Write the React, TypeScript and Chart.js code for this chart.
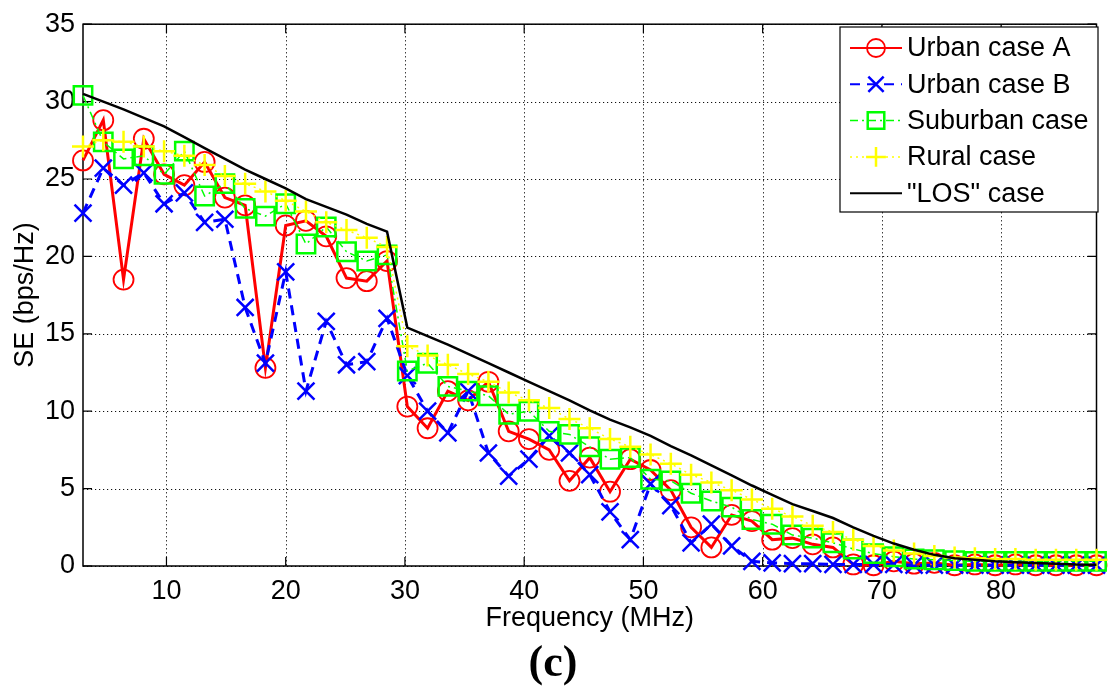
import React, { useEffect, useRef } from 'react';
import { Chart, registerables } from 'chart.js';

Chart.register(...registerables);

// ---------- data ----------
const freqMHz = [3, 4.7, 6.4, 8.1, 9.8, 11.5, 13.2, 14.9, 16.6, 18.3, 20, 21.7, 23.4, 25.1, 26.8, 28.5, 30.2, 31.9, 33.6, 35.3, 37, 38.7, 40.4, 42.1, 43.8, 45.5, 47.2, 48.9, 50.6, 52.3, 54, 55.7, 57.4, 59.1, 60.8, 62.5, 64.2, 65.9, 67.6, 69.3, 71, 72.7, 74.4, 76.1, 77.8, 79.5, 81.2, 82.9, 84.6, 86.3, 88];

const urbanA = [26.2, 28.8, 18.5, 27.6, 25.3, 24.6, 26.1, 23.8, 23.3, 12.8, 22.0, 22.3, 21.3, 18.6, 18.4, 19.7, 10.3, 8.9, 11.3, 10.7, 11.9, 8.7, 8.2, 7.5, 5.5, 7.0, 4.8, 6.9, 6.2, 4.9, 2.5, 1.2, 3.3, 2.9, 1.7, 1.8, 1.4, 1.2, 0.1, 0.05, 0.3, 0.15, 0.2, 0.05, 0.1, 0.05, 0.1, 0.05, 0.05, 0.05, 0.05];

const urbanB = [22.8, 25.7, 24.6, 25.4, 23.4, 24.1, 22.2, 22.4, 16.7, 13.1, 19.0, 11.3, 15.8, 13.0, 13.2, 16.0, 12.3, 10.0, 8.6, 11.3, 7.3, 5.8, 6.9, 8.4, 7.3, 5.9, 3.5, 1.7, 5.3, 3.9, 1.5, 2.7, 1.3, 0.3, 0.2, 0.15, 0.15, 0.1, 0.1, 0.1, 0.1, 0.05, 0.05, 0.05, 0.05, 0.05, 0.05, 0.05, 0.05, 0.05, 0.05];

const suburban = [30.4, 27.4, 26.3, 26.5, 25.3, 26.8, 23.9, 24.7, 23.1, 22.6, 23.4, 20.8, 21.9, 20.3, 19.7, 20.1, 12.6, 13.1, 11.6, 11.3, 11.0, 9.8, 10.0, 8.7, 8.5, 7.7, 6.9, 7.0, 5.6, 5.5, 4.7, 4.2, 3.8, 3.0, 2.7, 2.0, 1.8, 1.5, 1.1, 0.8, 0.6, 0.45, 0.4, 0.35, 0.3, 0.3, 0.3, 0.3, 0.3, 0.3, 0.3];

const rural = [27.1, 27.5, 27.4, 27.1, 26.8, 26.5, 25.9, 25.2, 24.7, 24.2, 23.6, 22.9, 22.2, 21.7, 21.2, 20.6, 14.2, 13.6, 13.0, 12.4, 11.9, 11.2, 10.7, 10.2, 9.5, 8.9, 8.2, 7.7, 7.2, 6.6, 5.9, 5.4, 4.9, 4.3, 3.7, 3.2, 2.6, 2.2, 1.7, 1.3, 1.0, 0.8, 0.65, 0.55, 0.5, 0.45, 0.45, 0.4, 0.4, 0.4, 0.4];

const los = [30.5, 30.0, 29.5, 28.95, 28.4, 27.7, 27.0, 26.3, 25.6, 25.0, 24.4, 23.7, 23.2, 22.7, 22.1, 21.6, 15.4, 14.85, 14.3, 13.7, 13.1, 12.5, 11.9, 11.3, 10.7, 10.05, 9.45, 8.95, 8.4, 7.75, 7.15, 6.5, 5.85, 5.2, 4.6, 4.0, 3.55, 3.1, 2.5, 1.95, 1.45, 1.05, 0.72, 0.5, 0.4, 0.3, 0.25, 0.2, 0.15, 0.1, 0.08];

const seriesLabels = ['Urban case A', 'Urban case B', 'Suburban case', 'Rural case', '"LOS" case'];
const xTickValues = [10, 20, 30, 40, 50, 60, 70, 80];
const yTickValues = [0, 5, 10, 15, 20, 25, 30, 35];
const xMin = 3;
const xMax = 88;
const yMin = 0;
const yMax = 35;
const yStep = 5;
const xTitle = 'Frequency (MHz)';
const yTitle = 'SE (bps/Hz)';
const caption = '(c)';

const SANS = '"Liberation Sans", Arial, Helvetica, sans-serif';
const SERIF = '"Liberation Serif", "Times New Roman", serif';

const toPoints = (ys: number[]) => ys.map((y, i) => ({ x: freqMHz[i], y }));

function drawMarker(ctx: CanvasRenderingContext2D, style: string, x: number, y: number, r: number) {
  ctx.beginPath();
  if (style === 'circle') {
    ctx.arc(x, y, r, 0, Math.PI * 2);
  } else if (style === 'rect') {
    const h = Math.SQRT1_2 * r;
    ctx.rect(x - h, y - h, 2 * h, 2 * h);
  } else if (style === 'crossRot') {
    const d = Math.SQRT1_2 * r;
    ctx.moveTo(x - d, y - d);
    ctx.lineTo(x + d, y + d);
    ctx.moveTo(x - d, y + d);
    ctx.lineTo(x + d, y - d);
  } else if (style === 'cross') {
    ctx.moveTo(x - r, y);
    ctx.lineTo(x + r, y);
    ctx.moveTo(x, y - r);
    ctx.lineTo(x, y + r);
  }
  ctx.stroke();
}

const boxPlugin = {
  id: 'matlabBox',
  beforeDatasetsDraw(chart: any) {
    const { ctx, chartArea: a, scales } = chart;
    ctx.save();
    // dotted grid
    ctx.strokeStyle = '#111';
    ctx.lineWidth = 1;
    ctx.setLineDash([1.2, 2.8]);
    ctx.beginPath();
    xTickValues.forEach((v) => {
      const px = Math.round(scales.x.getPixelForValue(v)) + 0.5;
      ctx.moveTo(px, a.top);
      ctx.lineTo(px, a.bottom);
    });
    yTickValues.forEach((v) => {
      const py = Math.round(scales.y.getPixelForValue(v)) + 0.5;
      ctx.moveTo(a.left, py);
      ctx.lineTo(a.right, py);
    });
    ctx.stroke();
    ctx.setLineDash([]);
    // box
    ctx.strokeStyle = '#000';
    ctx.lineWidth = 1.5;
    ctx.strokeRect(a.left, a.top, a.right - a.left, a.bottom - a.top);
    // inward ticks
    const tl = 9;
    ctx.lineWidth = 1.2;
    ctx.beginPath();
    xTickValues.forEach((v) => {
      const px = scales.x.getPixelForValue(v);
      ctx.moveTo(px, a.bottom);
      ctx.lineTo(px, a.bottom - tl);
      ctx.moveTo(px, a.top);
      ctx.lineTo(px, a.top + tl);
    });
    yTickValues.forEach((v) => {
      const py = scales.y.getPixelForValue(v);
      ctx.moveTo(a.left, py);
      ctx.lineTo(a.left + tl, py);
      ctx.moveTo(a.right, py);
      ctx.lineTo(a.right - tl, py);
    });
    ctx.stroke();
    ctx.restore();
  },
};

const legendPlugin = {
  id: 'insideLegend',
  afterDraw(chart: any) {
    const { ctx } = chart;
    const sets = [...chart.data.datasets].sort((p: any, q: any) => p.legendIndex - q.legendIndex);
    const bx = 840, by = 27, bw = 258, bh = 185;
    ctx.save();
    ctx.fillStyle = '#fff';
    ctx.fillRect(bx, by, bw, bh);
    ctx.strokeStyle = '#000';
    ctx.lineWidth = 1.2;
    ctx.setLineDash([]);
    ctx.strokeRect(bx, by, bw, bh);
    ctx.font = `27px ${SANS}`;
    ctx.textBaseline = 'middle';
    ctx.textAlign = 'left';
    sets.forEach((ds: any, k: number) => {
      const cy = 48 + k * 36.3;
      ctx.strokeStyle = ds.borderColor;
      ctx.lineWidth = Math.min(ds.borderWidth, 2);
      ctx.setLineDash(ds.legendDash || []);
      ctx.beginPath();
      ctx.moveTo(850, cy);
      ctx.lineTo(902, cy);
      ctx.stroke();
      ctx.setLineDash([]);
      if (ds.pointRadius > 0) {
        ctx.lineWidth = ds.pointBorderWidth;
        drawMarker(ctx, ds.pointStyle, 876, cy, ds.pointRadius * 0.9);
      }
      ctx.fillStyle = '#000';
      ctx.fillText(ds.label, 907, cy + 1);
    });
    ctx.restore();
  },
};

export default function App() {
  const ref = useRef<HTMLCanvasElement | null>(null);

  useEffect(() => {
    document.body.style.margin = '0';
    const canvas = ref.current;
    if (!canvas) return;
    const common = { fill: false, clip: false as any, tension: 0, pointBackgroundColor: 'rgba(0,0,0,0)', pointHoverRadius: 0 };
    const chart = new Chart(canvas, {
      type: 'line',
      data: {
        datasets: [
          {
            ...common,
            label: seriesLabels[4],
            legendIndex: 4,
            data: toPoints(los),
            borderColor: '#000000',
            borderWidth: 2.5,
            pointRadius: 0,
            order: 1,
          } as any,
          {
            ...common,
            label: seriesLabels[3],
            legendIndex: 3,
            data: toPoints(rural),
            borderColor: '#ffff00',
            pointBorderColor: '#ffff00',
            borderWidth: 1.5,
            borderDash: [2, 4],
            legendDash: [2, 4],
            pointStyle: 'cross',
            pointRadius: 11,
            pointBorderWidth: 2.5,
            order: 2,
          },
          {
            ...common,
            label: seriesLabels[2],
            legendIndex: 2,
            data: toPoints(suburban),
            borderColor: '#00ff00',
            pointBorderColor: '#00ff00',
            borderWidth: 1.5,
            borderDash: [8, 4, 2, 4],
            legendDash: [8, 4, 2, 4],
            pointStyle: 'rect',
            pointRadius: 13,
            pointBorderWidth: 2.5,
            order: 3,
          },
          {
            ...common,
            label: seriesLabels[1],
            legendIndex: 1,
            data: toPoints(urbanB),
            borderColor: '#0000ff',
            pointBorderColor: '#0000ff',
            borderWidth: 3,
            borderDash: [10, 7],
            legendDash: [10, 7],
            pointStyle: 'crossRot',
            pointRadius: 12,
            pointBorderWidth: 2.5,
            order: 4,
          },
          {
            ...common,
            label: seriesLabels[0],
            legendIndex: 0,
            data: toPoints(urbanA),
            borderColor: '#ff0000',
            pointBorderColor: '#ff0000',
            borderWidth: 3,
            pointStyle: 'circle',
            pointRadius: 10,
            pointBorderWidth: 1.8,
            order: 5,
          },
        ] as any,
      },
      options: {
        responsive: false,
        animation: false,
        devicePixelRatio: 1,
        layout: { padding: { top: 18, right: 6, left: 0, bottom: 0 } },
        plugins: {
          legend: { display: false },
          tooltip: { enabled: false },
          title: {
            display: true,
            position: 'bottom',
            text: caption,
            color: '#000',
            font: { family: SERIF, size: 44, weight: 'bold', lineHeight: 1.1 },
            padding: { top: 2, bottom: 3 },
          },
        },
        scales: {
          x: {
            type: 'linear',
            min: xMin,
            max: xMax,
            afterBuildTicks: (scale: any) => {
              scale.ticks = xTickValues.map((v) => ({ value: v }));
            },
            afterFit: (scale: any) => {
              scale.height = 72.6;
            },
            grid: { display: false, drawTicks: false },
            border: { display: false },
            ticks: {
              color: '#000',
              padding: 9,
              maxRotation: 0,
              autoSkip: false,
              font: { family: SANS, size: 27 },
            },
            title: {
              display: true,
              text: xTitle,
              color: '#000',
              font: { family: SANS, size: 27 },
              padding: { top: 0, bottom: 4 },
            },
          },
          y: {
            type: 'linear',
            min: yMin,
            max: yMax,
            afterBuildTicks: (scale: any) => {
              scale.ticks = yTickValues.map((v) => ({ value: v }));
            },
            afterFit: (scale: any) => {
              scale.width = 83;
            },
            grid: { display: false, drawTicks: false },
            border: { display: false },
            ticks: {
              stepSize: yStep,
              color: '#000',
              padding: 8,
              font: { family: SANS, size: 27 },
            },
            title: {
              display: true,
              text: yTitle,
              color: '#000',
              font: { family: SANS, size: 27 },
              padding: { top: 9, bottom: 0 },
            },
          },
        },
      } as any,
      plugins: [boxPlugin, legendPlugin],
    });
    return () => chart.destroy();
  }, []);

  return (
    <div style={{ position: 'fixed', left: 0, top: 0, width: 1112, height: 692, background: '#fff' }}>
      <canvas ref={ref} width={1112} height={692} style={{ display: 'block', width: 1112, height: 692 }} />
    </div>
  );
}
